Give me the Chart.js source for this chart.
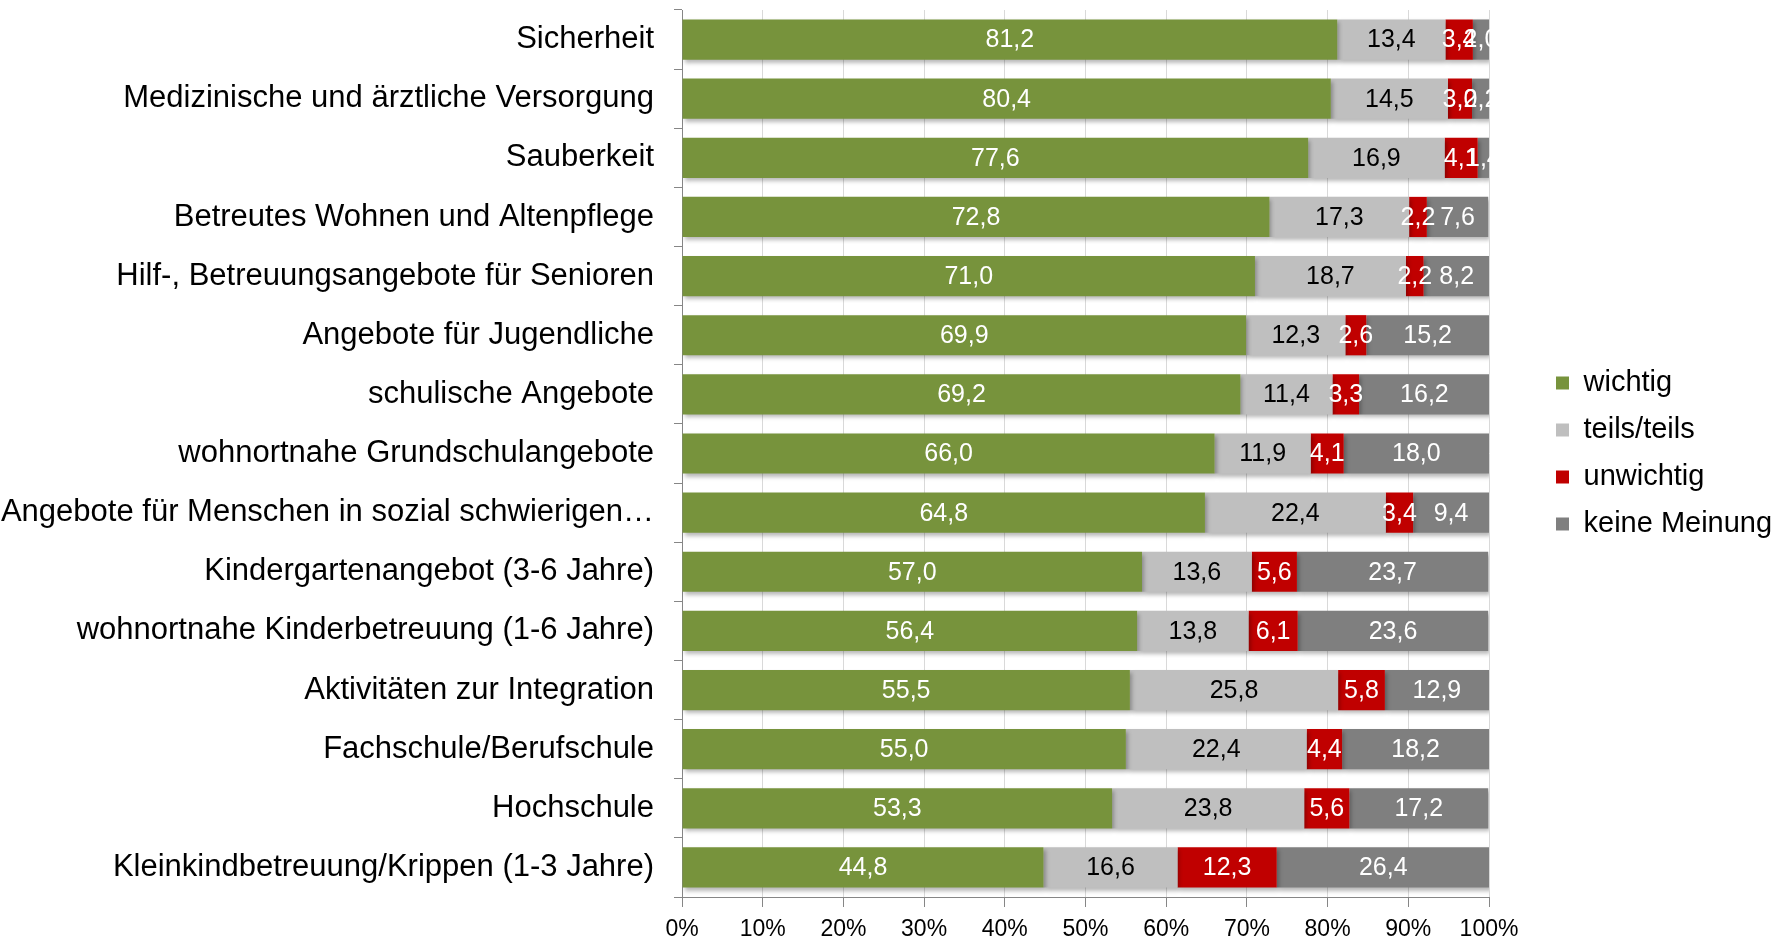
<!DOCTYPE html>
<html>
<head>
<meta charset="utf-8">
<script src="https://cdn.jsdelivr.net/npm/chart.js@4.4.1/dist/chart.umd.min.js"></script>
<style>
  html, body { margin: 0; padding: 0; background: #fff; }
  #wrap { width: 1782px; height: 943px; }
</style>
</head>
<body>
<div id="wrap"><canvas id="chart"></canvas></div>
<script>
const kategorien = [
  'Sicherheit',
  'Medizinische und ärztliche Versorgung',
  'Sauberkeit',
  'Betreutes Wohnen und Altenpflege',
  'Hilf-, Betreuungsangebote für Senioren',
  'Angebote für Jugendliche',
  'schulische Angebote',
  'wohnortnahe Grundschulangebote',
  'Angebote für Menschen in sozial schwierigen…',
  'Kindergartenangebot (3-6 Jahre)',
  'wohnortnahe Kinderbetreuung (1-6 Jahre)',
  'Aktivitäten zur Integration',
  'Fachschule/Berufschule',
  'Hochschule',
  'Kleinkindbetreuung/Krippen (1-3 Jahre)'
];
const wichtig     = [81.2, 80.4, 77.6, 72.8, 71.0, 69.9, 69.2, 66.0, 64.8, 57.0, 56.4, 55.5, 55.0, 53.3, 44.8];
const teilsTeils  = [13.4, 14.5, 16.9, 17.3, 18.7, 12.3, 11.4, 11.9, 22.4, 13.6, 13.8, 25.8, 22.4, 23.8, 16.6];
const unwichtig   = [3.4, 3.0, 4.1, 2.2, 2.2, 2.6, 3.3, 4.1, 3.4, 5.6, 6.1, 5.8, 4.4, 5.6, 12.3];
const keineMeinung = [2.0, 2.2, 1.4, 7.6, 8.2, 15.2, 16.2, 18.0, 9.4, 23.7, 23.6, 12.9, 18.2, 17.2, 26.4];

const schrift = 'Arial, "Liberation Sans", sans-serif';

// Werte in die Balken schreiben
const werteLabels = {
  id: 'werteLabels',
  afterDatasetsDraw(chart) {
    const ctx = chart.ctx;
    ctx.save();
    ctx.font = '25px ' + schrift;
    ctx.textAlign = 'center';
    ctx.textBaseline = 'middle';
    chart.data.datasets.forEach((ds, i) => {
      const meta = chart.getDatasetMeta(i);
      meta.data.forEach((bar, j) => {
        const v = ds.data[j];
        ctx.fillStyle = ds.labelColor;
        ctx.fillText(v.toFixed(1).replace('.', ','), (bar.x + bar.base) / 2, bar.y + 1);
      });
    });
    ctx.restore();
  }
};

// leichter Schatten unter den Balken
const schatten = {
  id: 'schatten',
  beforeDatasetsDraw(chart) {
    const ctx = chart.ctx;
    ctx.save();
    ctx.shadowColor = 'rgba(0,0,0,0.28)';
    ctx.shadowBlur = 4;
    ctx.shadowOffsetX = 2;
    ctx.shadowOffsetY = 3;
  },
  afterDatasetsDraw(chart) {
    chart.ctx.restore();
  }
};

// Legende: feste Breite, etwas nach rechts und oben geruckt
const legendePlatz = {
  id: 'legendePlatz',
  beforeInit(chart) {
    const fitAlt = chart.legend.fit;
    chart.legend.fit = function () {
      fitAlt.call(this);
      this.width = 293;
    };
  },
  afterLayout(chart) {
    const lg = chart.legend;
    lg.left += 49;
    lg.right += 49;
    lg.top -= 23;
    lg.bottom -= 23;
  }
};

const ctx = document.getElementById('chart').getContext('2d');
const chart = new Chart(ctx, {
  type: 'bar',
  data: {
    labels: kategorien,
    datasets: [
      { label: 'wichtig', data: wichtig, backgroundColor: '#77933C', labelColor: '#fff' },
      { label: 'teils/teils', data: teilsTeils, backgroundColor: '#BFBFBF', labelColor: '#000' },
      { label: 'unwichtig', data: unwichtig, backgroundColor: '#C00000', labelColor: '#fff' },
      { label: 'keine Meinung', data: keineMeinung, backgroundColor: '#7F7F7F', labelColor: '#fff' }
    ]
  },
  options: {
    indexAxis: 'y',
    responsive: true,
    maintainAspectRatio: false,
    animation: false,
    datasets: {
      bar: { categoryPercentage: 1, barPercentage: 0.68 }
    },
    layout: { padding: { top: 10, right: 0, left: 0, bottom: 0 } },
    scales: {
      x: {
        stacked: true,
        min: 0,
        max: 100,
        ticks: {
          stepSize: 10,
          callback: v => v + '%',
          color: '#000',
          font: { size: 23, family: schrift },
          padding: 9,
          maxRotation: 0
        },
        grid: { color: '#D9D9D9', tickLength: 10, tickColor: '#868686' },
        border: { color: '#868686' },
        afterFit(scale) {
          scale.height = 46;
        }
      },
      y: {
        stacked: true,
        ticks: {
          color: '#000',
          font: { size: 31, family: schrift },
          padding: 20,
          autoSkip: false
        },
        grid: { drawOnChartArea: false, tickLength: 8, color: '#868686', offset: true },
        border: { color: '#868686' },
        afterFit(scale) {
          scale.width = 682;
          scale.paddingTop = 0;
          scale.paddingBottom = 0;
        }
      }
    },
    plugins: {
      legend: {
        position: 'right',
        labels: {
          color: '#000',
          font: { size: 29, family: schrift },
          boxWidth: 13,
          boxHeight: 13,
          padding: 18
        }
      },
      tooltip: { enabled: false }
    }
  },
  plugins: [schatten, werteLabels, legendePlatz]
});
</script>
</body>
</html>
